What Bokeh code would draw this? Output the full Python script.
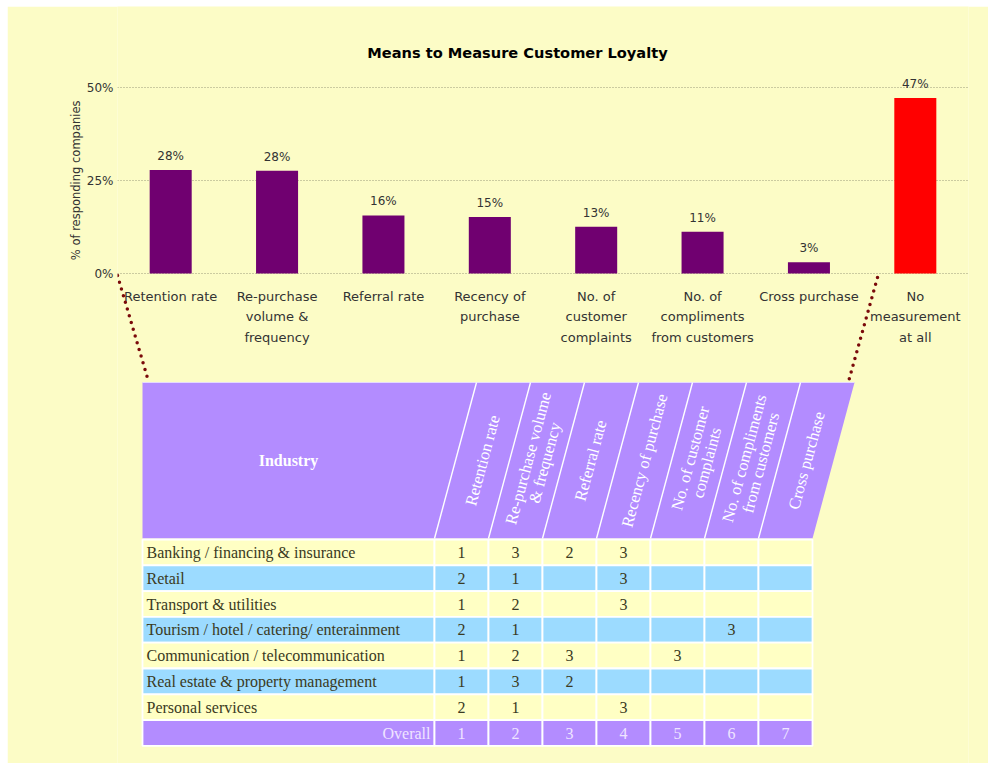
import math
from bokeh.plotting import figure
from bokeh.layouts import row, column
from bokeh.models import Range1d, FixedTicker, PrintfTickFormatter, Title, Spacer
from bokeh.core.properties import value
from bokeh.embed import file_html
from bokeh.resources import INLINE

# ---------------- data ----------------
chart_title = "Means to Measure Customer Loyalty"
y_axis_title = "% of responding companies"
measures = ["Retention rate", "Re-purchase\nvolume &\nfrequency", "Referral rate",
            "Recency of\npurchase", "No. of\ncustomer\ncomplaints",
            "No. of\ncompliments\nfrom customers", "Cross purchase",
            "No\nmeasurement\nat all"]
shares = [27.8, 27.6, 15.6, 15.2, 12.6, 11.2, 3.0, 47.2]
y_ticks = [0, 25, 50]

table_header = "Industry"
table_columns = ["Retention rate", "Re-purchase volume\n& frequency", "Referral rate",
                 "Recency of purchase", "No. of customer\ncomplaints",
                 "No. of compliments\nfrom customers", "Cross purchase"]
industries = ["Banking / financing & insurance", "Retail", "Transport & utilities",
              "Tourism / hotel / catering/ enterainment",
              "Communication / telecommunication",
              "Real estate & property management", "Personal services"]
ranks = [
    [1, 3, 2, 3, None, None, None],
    [2, 1, None, 3, None, None, None],
    [1, 2, None, 3, None, None, None],
    [2, 1, None, None, None, 3, None],
    [1, 2, 3, None, 3, None, None],
    [1, 3, 2, None, None, None, None],
    [2, 1, None, 3, None, None, None],
]
overall_label = "Overall"
overall_rank = [1, 2, 3, 4, 5, 6, 7]

# ---------------- styles ----------------
BG = "#FCFCC6"
ROW_YELLOW = "#FFFFC4"
ROW_BLUE = "#9CDBFF"
PURPLE_HDR = "#B38CFF"
BAR_PURPLE = "#700070"
BAR_RED = "#FF0000"
DOT_RED = "#7A0A0A"
TXT = "#333333"
TBL_TXT = "#3A3A22"
SANS = "DejaVu Sans"
SERIF = "Liberation Serif"

OFFX, OFFY = 7, 6           # page offset of the canvas (white strip left/top)
W, H = 981, 757
FL, FR = 117, 968           # frame left / right (page px)
Y0, PPU = 273, 3.72         # page y of 0%, px per percent
n = len(measures)


def px(page_x):
    return -0.5 + (page_x - FL) / (FR - FL) * n


def py(page_y):
    return (Y0 - page_y) / PPU


p = figure(width=W, height=H, output_backend="svg", toolbar_location=None,
           x_range=Range1d(-0.5, n - 0.5), y_range=Range1d(py(OFFY + H), py(OFFY)),
           x_axis_type=None, min_border_left=FL - OFFX,
           min_border_right=W - (FR - OFFX), min_border_top=0, min_border_bottom=0)
p.background_fill_color = BG
p.border_fill_color = BG
p.outline_line_color = None

ax = p.yaxis[0]
ax.ticker = FixedTicker(ticks=y_ticks)
ax.formatter = PrintfTickFormatter(format="%d%%")
ax.axis_line_color = None
ax.major_tick_line_color = None
ax.minor_tick_line_color = None
ax.major_tick_out = 0
ax.major_tick_in = 0
ax.major_label_text_font = SANS
ax.major_label_text_font_size = "12px"
ax.major_label_text_color = TXT
ax.major_label_standoff = 4
p.ygrid.ticker = FixedTicker(ticks=y_ticks)
p.ygrid.grid_line_color = "#9A9A7A"
p.ygrid.grid_line_dash = "1 2"
p.ygrid.grid_line_width = 1

# vertical axis title: left-side title, its top end placed near the 50% line
p.add_layout(Title(text=y_axis_title, align="right", offset=100 - OFFY,
                   text_font=SANS, text_font_size="11.5px", text_font_style="normal",
                   text_color=TXT, standoff=2), "left")

idx = list(range(n))
bar_colors = [BAR_PURPLE] * (n - 1) + [BAR_RED]
p.vbar(x=idx, bottom=0, top=shares, width=0.395, fill_color=bar_colors,
       line_color=None)
p.text(x=idx, y=shares, text=[f"{v:.0f}%" for v in shares], text_align="center",
       text_baseline="bottom", y_offset=-7, text_font=value(SANS),
       text_font_size="12px", text_color=TXT)
p.text(x=idx, y=[py(288)] * n, text=measures, text_align="center",
       text_baseline="top", text_font=value(SANS), text_font_size="13px",
       text_color=TXT, text_line_height=1.38)

p.text(x=[px(517)], y=[py(52)], text=[chart_title], text_align="center",
       text_baseline="middle", text_font=value(SANS), text_font_style="bold",
       text_font_size="14.6px", text_color="#000000")

# ---------------- table ----------------
T_LEFT, C0, CW = 142, 434, 54
H_TOP, H_BOT = 382, 538
SLANT = 42
R_TOP, RH = 539, 25.8
nc = len(table_columns)
c_right = C0 + CW * nc

# dotted connectors
p.segment(x0=[px(117), px(877)], y0=[py(275), py(277)],
          x1=[px(148), px(848)], y1=[py(381), py(381)],
          line_color=DOT_RED, line_width=3.5, line_dash="0 7", line_cap="round")

# header block
p.patch(x=[px(T_LEFT), px(c_right + SLANT), px(c_right), px(T_LEFT)],
        y=[py(H_TOP), py(H_TOP), py(H_BOT), py(H_BOT)],
        fill_color=PURPLE_HDR, line_color=None)
p.segment(x0=[px(T_LEFT)], y0=[py(H_TOP)], x1=[px(c_right + SLANT)], y1=[py(H_TOP)],
          line_color="#E6DAFF", line_width=1.2)
p.segment(x0=[px(C0 + CW * k) for k in range(nc)], y0=[py(H_BOT)] * nc,
          x1=[px(C0 + CW * k + SLANT) for k in range(nc)], y1=[py(H_TOP)] * nc,
          line_color="white", line_width=1.4)
p.text(x=[px((T_LEFT + C0) / 2)], y=[py(460)], text=[table_header],
       text_align="center", text_baseline="middle", text_font=value(SERIF),
       text_font_style="bold", text_font_size="16px", text_color="white")
ang = math.atan2(H_BOT - H_TOP, SLANT)
mid = (H_TOP + H_BOT) / 2
p.text(x=[px(C0 + CW * k + CW / 2 + SLANT / 2) for k in range(nc)],
       y=[py(mid)] * nc, text=table_columns, angle=ang, text_align="center",
       text_baseline="middle", text_font=value(SERIF), text_font_size="16.5px",
       text_color="white", text_line_height=0.9)

# body rows
nr = len(industries) + 1
lefts, rights, tops, bots, fills = [], [], [], [], []
for i in range(nr):
    t = R_TOP + i * RH
    b = t + RH
    if i == nr - 1:
        col = PURPLE_HDR
    elif i % 2 == 0:
        col = ROW_YELLOW
    else:
        col = ROW_BLUE
    edges = [T_LEFT, C0] + [C0 + CW * (k + 1) for k in range(nc)]
    for a, bb in zip(edges[:-1], edges[1:]):
        lefts.append(px(a)); rights.append(px(bb))
        tops.append(py(t)); bots.append(py(b)); fills.append(col)
p.quad(left=lefts, right=rights, top=tops, bottom=bots, fill_color=fills,
       line_color="white", line_width=1.8)

row_mid = [py(R_TOP + i * RH + RH / 2) for i in range(nr)]
p.text(x=[px(T_LEFT + 4)] * len(industries), y=row_mid[:-1], text=industries,
       text_align="left", text_baseline="middle", text_font=value(SERIF),
       text_font_size="16px", text_color=TBL_TXT)
nx, ny, nt = [], [], []
for i, row_vals in enumerate(ranks):
    for k, v in enumerate(row_vals):
        if v is not None:
            nx.append(px(C0 + CW * k + CW / 2)); ny.append(row_mid[i]); nt.append(str(v))
p.text(x=nx, y=ny, text=nt, text_align="center", text_baseline="middle",
       text_font=value(SERIF), text_font_size="16px", text_color=TBL_TXT)
p.text(x=[px(C0 - 4)], y=[row_mid[-1]], text=[overall_label], text_align="right",
       text_baseline="middle", text_font=value(SERIF), text_font_size="16px",
       text_color="#EFE4FF")
p.text(x=[px(C0 + CW * k + CW / 2) for k in range(nc)], y=[row_mid[-1]] * nc,
       text=[str(v) for v in overall_rank], text_align="center",
       text_baseline="middle", text_font=value(SERIF), text_font_size="16px",
       text_color="#EFE4FF")

page = row(Spacer(width=OFFX), column(Spacer(height=OFFY), p))
open("out.html", "w").write(file_html(page, INLINE))
